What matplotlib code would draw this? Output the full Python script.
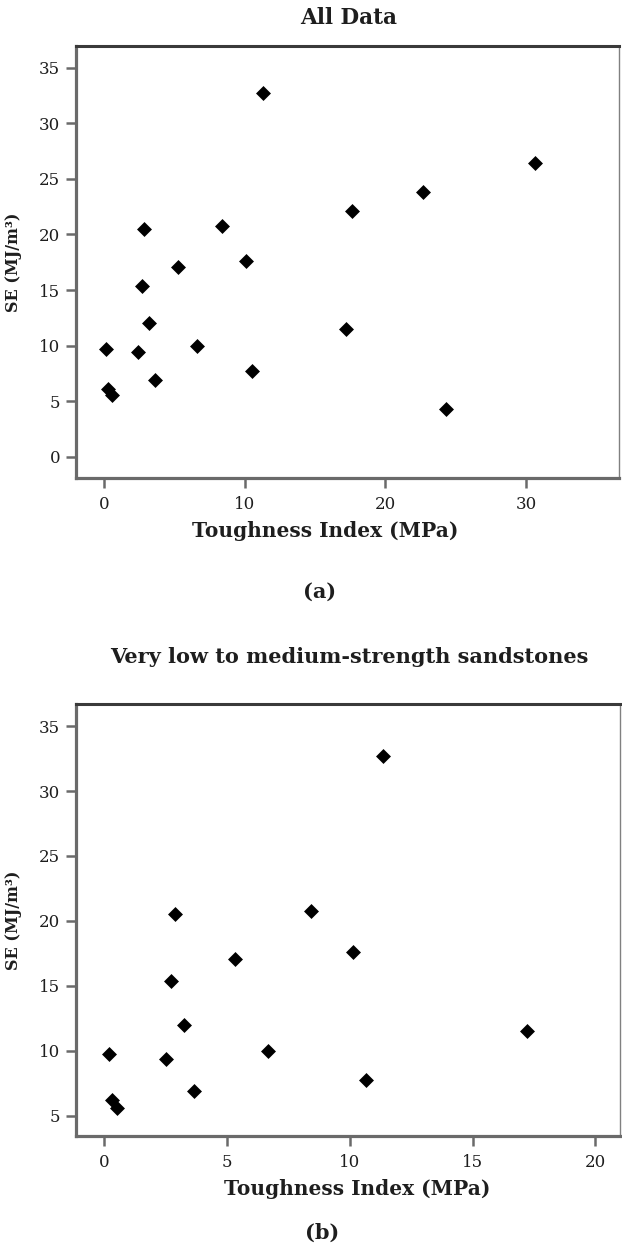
import matplotlib
matplotlib.use('Agg')
import matplotlib.pyplot as plt

# (a) all data
toughness_all = [11.3, 30.6, 22.7, 17.6, 2.85, 8.4, 5.3, 10.1, 2.75,
                 3.25, 17.2, 0.15, 2.45, 6.65, 10.55, 3.65, 0.3, 0.6, 24.3]
se_all = [32.7, 26.4, 23.8, 22.1, 20.5, 20.8, 17.1, 17.6, 15.4,
          12.0, 11.5, 9.7, 9.4, 10.0, 7.7, 6.9, 6.1, 5.6, 4.35]

# (b) very low to medium-strength sandstones
toughness_low = [11.35, 2.9, 8.45, 10.15, 5.35, 2.75, 3.25, 17.2,
                 6.7, 0.2, 2.55, 10.65, 3.65, 0.35, 0.55]
se_low = [32.7, 20.5, 20.8, 17.6, 17.1, 15.4, 12.0, 11.5,
          10.0, 9.75, 9.4, 7.75, 6.9, 6.2, 5.6]

xticks_a = [0, 10, 20, 30]
yticks_a = [0, 5, 10, 15, 20, 25, 30, 35]
xticks_b = [0, 5, 10, 15, 20]
yticks_b = [5, 10, 15, 20, 25, 30, 35]

W, H = 622, 1249
plt.rcParams['font.family'] = ['DejaVu Serif']
TXT = '#1e1e1e'


def px_rect(left, top, right, bottom):
    return [left / W, 1 - bottom / H, (right - left) / W, (bottom - top) / H]


def style_axes(ax, xticks, yticks, xlim, ylim, xlabel_x):
    ax.set_xlim(*xlim)
    ax.set_ylim(*ylim)
    ax.set_xticks(xticks)
    ax.set_yticks(yticks)
    for side in ['left', 'bottom']:
        ax.spines[side].set_color('#6a6a6a')
        ax.spines[side].set_linewidth(2.3)
    ax.spines['top'].set_color('#3a3a3a')
    ax.spines['top'].set_linewidth(2.2)
    ax.spines['right'].set_color('#808080')
    ax.spines['right'].set_linewidth(1.0)
    ax.tick_params(axis='both', direction='out', length=7, width=1.8,
                   color='#6a6a6a', labelsize=12, labelcolor=TXT)
    ax.tick_params(axis='y', pad=4.5)
    ax.tick_params(axis='x', pad=6)
    ax.set_xlabel('Toughness Index (MPa)', fontsize=14.5, fontweight='bold', color=TXT)
    ax.xaxis.set_label_coords(xlabel_x, -0.1)
    ax.set_ylabel('SE (MJ/m³)', fontsize=11.5, fontweight='bold', color=TXT)
    ax.yaxis.set_label_coords(-0.099, 0.5)


fig = plt.figure(figsize=(W / 100, H / 100), dpi=100)

ax1 = fig.add_axes(px_rect(76, 46, 619, 478))
ax1.scatter(toughness_all, se_all, marker='D', s=58, color='black', linewidths=0)
style_axes(ax1, xticks_a, yticks_a, (-1.97, 36.6), (-1.9, 36.95), 0.459)

ax2 = fig.add_axes(px_rect(76, 704, 620, 1136))
ax2.scatter(toughness_low, se_low, marker='D', s=58, color='black', linewidths=0)
style_axes(ax2, xticks_b, yticks_b, (-1.13, 21.0), (3.44, 36.7), 0.517)

fig.text(349 / W, 1 - 18.5 / H, 'All Data', ha='center', va='center',
         fontsize=15.5, fontweight='bold', color=TXT)
fig.text(349 / W, 1 - 657 / H, 'Very low to medium-strength sandstones',
         ha='center', va='center', fontsize=15, fontweight='bold', color=TXT)
fig.text(320 / W, 1 - 592 / H, '(a)', ha='center', va='center',
         fontsize=15, fontweight='bold', color=TXT)
fig.text(322 / W, 1 - 1233 / H, '(b)', ha='center', va='center',
         fontsize=15, fontweight='bold', color=TXT)

fig.savefig('out.png', dpi=100, facecolor='white')
